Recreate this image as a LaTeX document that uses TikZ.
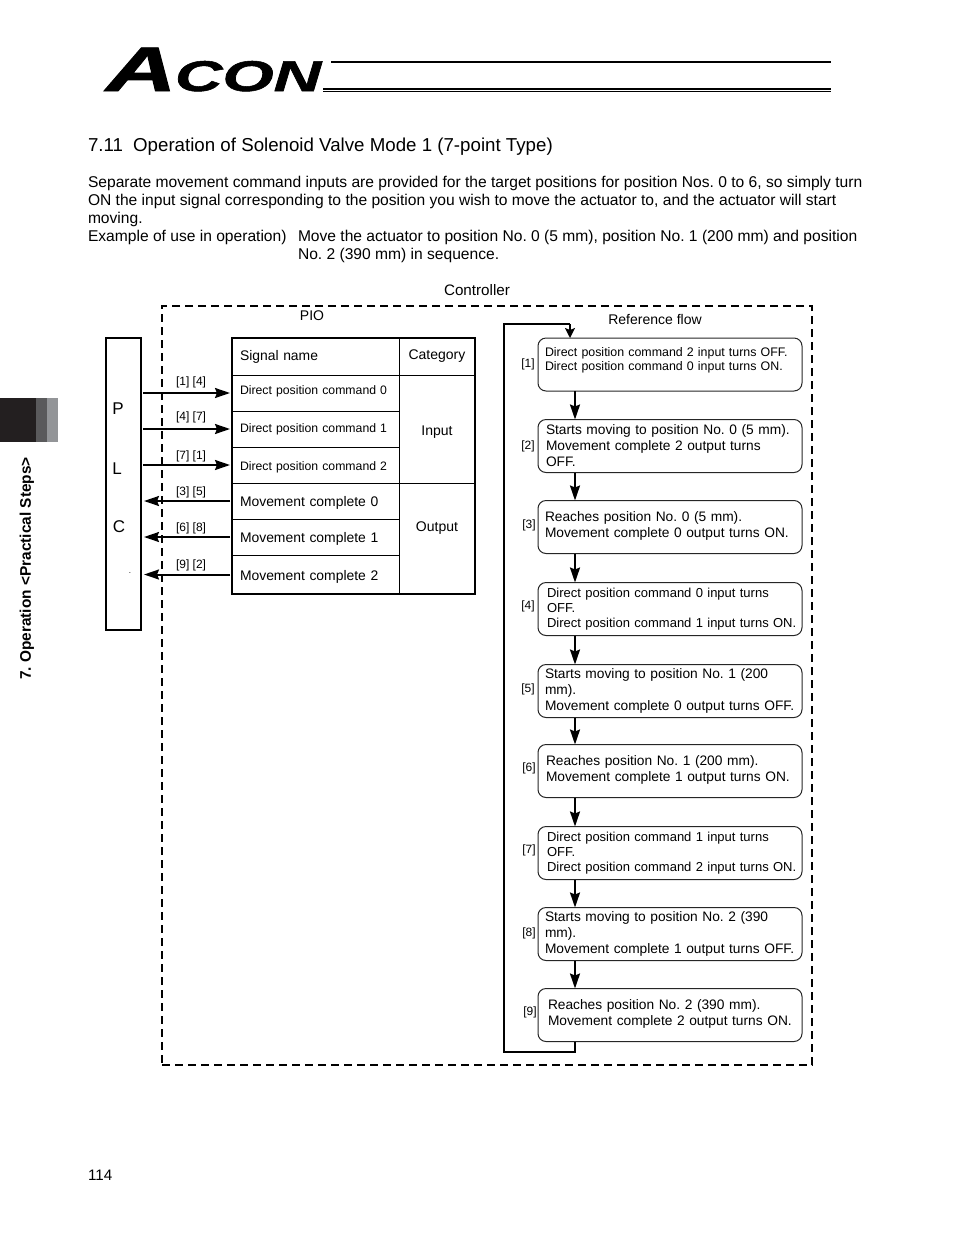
\documentclass[tikz,border=0pt]{standalone}
\usepackage{fontspec}
\setmainfont{Liberation Sans}
\newfontfamily\logofont[BoldItalicFeatures={FakeBold=1.2}]{Liberation Sans}
\usetikzlibrary{arrows.meta}
\definecolor{tabdark}{HTML}{231F20}
\definecolor{tabmid}{HTML}{5A5A5C}
\definecolor{tablight}{HTML}{939598}
\newcommand{\liftup}{\\[-10.5pt]\mbox{}}
\begin{document}
\frenchspacing
\begin{tikzpicture}[
    x=1pt, y=-1pt,
    every node/.style={outer sep=0pt},
    txt/.style={inner sep=0pt, align=left},
    bodytxt/.style={txt, anchor=west, font=\fontsize{15.6}{18}\selectfont},
    smalltxt/.style={inner sep=0pt, font=\fontsize{14}{16}\selectfont},
    steptxt/.style={inner sep=0pt, font=\fontsize{12}{14}\selectfont},
    flowbox/.style={draw=black!85, line width=1pt, rounded corners=8pt, minimum height=53pt,
        inner xsep=0pt, inner ysep=0pt, text width=264pt, align=left,
        execute at begin node={\leftskip=#1\relax},
        font=\fontsize{13.75}{16}\selectfont},
    widebox/.style={flowbox=#1, font=\fontsize{13}{15}\selectfont},
    sigcell/.style={draw, line width=.7pt, anchor=north west, minimum height=36pt, inner xsep=8pt,
        inner ysep=0pt, text width=151pt, align=left, text height=12pt, text depth=1pt,
        font=\fontsize{13.9}{16}\selectfont},
    cmdcell/.style={sigcell, font=\fontsize{12.25}{14}\selectfont},
    catcell/.style={draw, line width=.7pt, anchor=north west, minimum width=76pt, inner sep=0pt,
        align=center, font=\fontsize{14}{16}\selectfont},
    arrow/.style={-{Stealth[length=15pt,width=10pt,inset=2pt]}, line width=2pt},
    loopline/.style={line width=2.5pt},
    dashbox/.style={draw, line width=1.6pt, dash pattern=on 8pt off 5pt},
    logotxt/.style={inner sep=0pt, anchor=base west}
]
    \useasboundingbox (0,0) rectangle (954,1235);

    % header
    \node[logotxt, font=\fontsize{63}{63}\logofont\bfseries\itshape\selectfont, xscale=1.55] (logoa) at (106,91) {A};
    \node[logotxt, font=\fontsize{43}{43}\logofont\bfseries\itshape\selectfont, xscale=1.53] (logob) at (175,91) {CON};
    \coordinate (rulea) at (331,62);
    \coordinate (ruleb) at (831,62);
    \coordinate (rulec) at (323,89);
    \coordinate (ruled) at (831,89);
    \coordinate (rulee) at (323,91.5);
    \coordinate (rulef) at (831,91.5);
    \draw[line width=2.4pt] (rulea) -- (ruleb);
    \draw[line width=1.3pt] (rulec) -- (ruled);
    \draw[line width=1.2pt] (rulee) -- (rulef);

    % side tab
    \fill[tabdark] (0,398) rectangle (36,442);
    \fill[tabmid] (36,398) rectangle (47,442);
    \fill[tablight] (47,398) rectangle (58,442);
    \node[rotate=90, inner sep=0pt, font=\fontsize{15.4}{17}\bfseries\selectfont] (sidetxt) at (27,568.5) {7. Operation <Practical Steps>};
    \node[bodytxt, font=\fontsize{15.2}{17}\selectfont] (pageno) at (88,1175) {114};

    % text
    \node[bodytxt, font=\fontsize{18.7}{21}\selectfont] (title) at (88,147) {7.11\hspace{5pt} Operation of Solenoid Valve Mode 1 (7-point Type)};
    \node[bodytxt] (intro) at (88,210) {Separate movement command inputs are provided for the target positions for position Nos. 0 to 6, so simply turn\\
        ON the input signal corresponding to the position you wish to move the actuator to, and the actuator will start\\
        moving.\\
        Example of use in operation)};
    \node[bodytxt] (example) at (298,246) {Move the actuator to position No. 0 (5 mm), position No. 1 (200 mm) and position\\
        No. 2 (390 mm) in sequence.};

    % frame
    \node[dashbox, anchor=north west, minimum width=650pt, minimum height=759pt, inner sep=0pt] (ctrl) at (162,306) {};
    \node[inner sep=0pt, font=\fontsize{15.2}{17}\selectfont] (ctrllabel) at (477,290) {Controller};
    \node[smalltxt] (piolabel) at (312,316) {PIO};
    \node[smalltxt] (reflabel) at (655,319) {Reference flow};

    % PLC
    \node[draw, line width=1.6pt, anchor=north west, minimum width=35pt, minimum height=292pt, inner sep=0pt] (plc) at (106,338) {};
    \node[inner sep=0pt, font=\fontsize{17}{19}\selectfont] (plcp) at (118,409) {P};
    \node[inner sep=0pt, font=\fontsize{17}{19}\selectfont] (plcl) at (117,469) {L};
    \node[inner sep=0pt, font=\fontsize{17}{19}\selectfont] (plcc) at (119,527) {C};
    \node[inner sep=0pt, font=\fontsize{8}{8}\selectfont] (plcdot) at (130,573) {.};

    % signal table
    \node[sigcell, minimum height=37pt, text depth=5pt] (signame) at (232,338) {Signal name};
    \node[catcell, minimum height=37pt] (catname) at (399,338) {Category};
    \node[cmdcell, text depth=9pt] (sig0) at (232,375) {Direct position command 0};
    \node[cmdcell, text depth=5pt] (sig1) at (232,411) {Direct position command 1};
    \node[cmdcell] (sig2) at (232,447) {Direct position command 2};
    \node[sigcell] (sig3) at (232,483) {Movement complete 0};
    \node[sigcell] (sig4) at (232,519) {Movement complete 1};
    \node[sigcell, minimum height=39pt] (sig5) at (232,555) {Movement complete 2};
    \node[catcell, minimum height=108pt, text height=15pt] (catin) at (399,375) {Input};
    \node[catcell, minimum height=111pt] (catout) at (399,483) {Output\\[7pt]\mbox{}};
    \node[draw, line width=1.8pt, anchor=north west, minimum width=243pt, minimum height=256pt, inner sep=0pt] (sigtable) at (232,338) {};

    % plc arrows
    \draw[arrow, shorten <=2pt, shorten >=2pt] (plc.east |- sig0.west) -- node[steptxt, above=5pt, pos=.55] {[1] [4]} (sig0.west);
    \draw[arrow, shorten <=2pt, shorten >=2pt] (plc.east |- sig1.west) -- node[steptxt, above=6pt, pos=.55] {[4] [7]} (sig1.west);
    \draw[arrow, shorten <=2pt, shorten >=2pt] (plc.east |- sig2.west) -- node[steptxt, above=3pt, pos=.55] {[7] [1]} (sig2.west);
    \draw[arrow, shorten <=2pt, shorten >=3pt] (sig3.west) -- node[steptxt, above=3pt, pos=.45] {[3] [5]} (plc.east |- sig3.west);
    \draw[arrow, shorten <=2pt, shorten >=3pt] (sig4.west) -- node[steptxt, above=3pt, pos=.45] {[6] [8]} (plc.east |- sig4.west);
    \draw[arrow, shorten <=2pt, shorten >=3pt] (sig5.west) -- node[steptxt, above=4pt, pos=.45] {[9] [2]} (plc.east |- sig5.west);

    % flow boxes
    \node[flowbox=7pt, font=\fontsize{12.4}{14}\selectfont] (flow1) at (670,364.5) {Direct position command 2 input turns OFF.\\Direct position command 0 input turns ON.\\[-3pt]\mbox{}};
    \node[flowbox=8pt] (flow2) at (670,446) {Starts moving to position No. 0 (5 mm).\\Movement complete 2 output turns\\OFF.};
    \node[flowbox=7pt] (flow3) at (670,527) {Reaches position No. 0 (5 mm).\\Movement complete 0 output turns ON.\liftup};
    \node[widebox=9pt] (flow4) at (670,609) {Direct position command 0 input turns\\OFF.\\Direct position command 1 input turns ON.};
    \node[flowbox=7pt] (flow5) at (670,691) {Starts moving to position No. 1 (200\\mm).\\Movement complete 0 output turns OFF.};
    \node[flowbox=8pt] (flow6) at (670,771) {Reaches position No. 1 (200 mm).\\Movement complete 1 output turns ON.\liftup};
    \node[widebox=9pt] (flow7) at (670,853) {Direct position command 1 input turns\\OFF.\\Direct position command 2 input turns ON.};
    \node[flowbox=7pt] (flow8) at (670,934) {Starts moving to position No. 2 (390\\mm).\\Movement complete 1 output turns OFF.};
    \node[flowbox=10pt] (flow9) at (670,1015) {Reaches position No. 2 (390 mm).\\Movement complete 2 output turns ON.\liftup};

    % step numbers
    \node[steptxt] (step1) at (528,364.5) {[1]};
    \node[steptxt] (step2) at (528,446.5) {[2]};
    \node[steptxt] (step3) at (529,525.5) {[3]};
    \node[steptxt] (step4) at (528,606.5) {[4]};
    \node[steptxt] (step5) at (528,689.5) {[5]};
    \node[steptxt] (step6) at (529,768.5) {[6]};
    \node[steptxt] (step7) at (529,850.5) {[7]};
    \node[steptxt] (step8) at (529,933.5) {[8]};
    \node[steptxt] (step9) at (530,1012.5) {[9]};

    % flow arrows
    \coordinate (flowx) at (575,0);
    \draw[arrow] (flow1.south -| flowx) -- (flow2.north -| flowx);
    \draw[arrow] (flow2.south -| flowx) -- (flow3.north -| flowx);
    \draw[arrow] (flow3.south -| flowx) -- (flow4.north -| flowx);
    \draw[arrow] (flow4.south -| flowx) -- (flow5.north -| flowx);
    \draw[arrow] (flow5.south -| flowx) -- (flow6.north -| flowx);
    \draw[arrow] (flow6.south -| flowx) -- (flow7.north -| flowx);
    \draw[arrow] (flow7.south -| flowx) -- (flow8.north -| flowx);
    \draw[arrow] (flow8.south -| flowx) -- (flow9.north -| flowx);

    % return line
    \coordinate (loopa) at (575,1052);
    \coordinate (loopb) at (504,1052);
    \coordinate (loopc) at (504,324);
    \coordinate (loopd) at (570,324);
    \draw[loopline] (flow9.south -| flowx) -- (loopa) -- (loopb) -- (loopc) -- (loopd);
    \draw[-{Stealth[length=10pt,width=10pt,inset=2pt]}, line width=1.5pt] (loopd) -- (flow1.north -| loopd);
\end{tikzpicture}
\end{document}
